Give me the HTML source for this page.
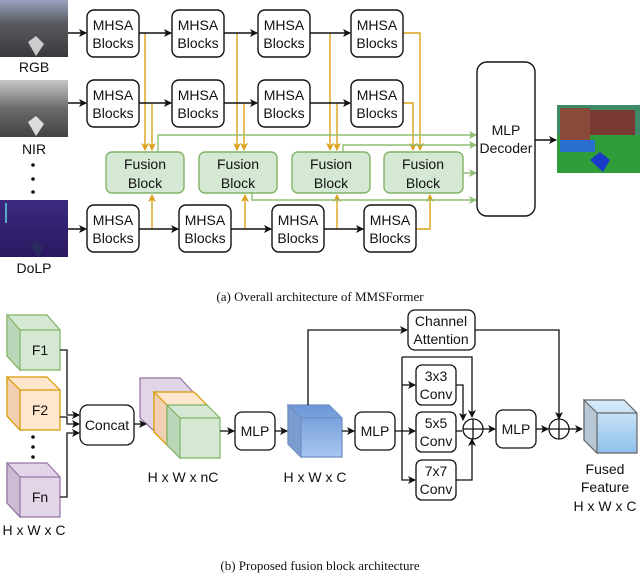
<!DOCTYPE html>
<html><head><meta charset="utf-8"><style>
html,body{margin:0;padding:0;background:#fff;}
svg{display:block;}
text{font-family:"Liberation Sans",sans-serif;fill:#111;}
.s{font-family:"Liberation Serif",serif;}
</style></head><body>
<svg width="640" height="575" viewBox="0 0 640 575" xmlns="http://www.w3.org/2000/svg">
<defs>
<marker id="ak" markerWidth="8" markerHeight="8" refX="7" refY="4" orient="auto" markerUnits="userSpaceOnUse"><path d="M0,0 L8,4 L0,8 L2,4 z" fill="#111"/></marker>
<marker id="ao" markerWidth="8" markerHeight="8" refX="7" refY="4" orient="auto" markerUnits="userSpaceOnUse"><path d="M0,0 L8,4 L0,8 L2,4 z" fill="#dba21c"/></marker>
<marker id="ag" markerWidth="8" markerHeight="8" refX="7" refY="4" orient="auto" markerUnits="userSpaceOnUse"><path d="M0,0 L8,4 L0,8 L2,4 z" fill="#8fbf72"/></marker>
<linearGradient id="rgb" x1="0" y1="0" x2="0" y2="1"><stop offset="0" stop-color="#9aa3c0"/><stop offset="0.4" stop-color="#5a5a60"/><stop offset="1" stop-color="#3a3a3e"/></linearGradient>
<linearGradient id="nir" x1="0" y1="0" x2="0" y2="1"><stop offset="0" stop-color="#c8c8c8"/><stop offset="0.5" stop-color="#6a6a6a"/><stop offset="1" stop-color="#444"/></linearGradient>
<linearGradient id="dolp" x1="0" y1="0" x2="0" y2="1"><stop offset="0" stop-color="#3b2a80"/><stop offset="1" stop-color="#2a1860"/></linearGradient>
<linearGradient id="blue" x1="0" y1="0" x2="0" y2="1"><stop offset="0" stop-color="#6b96d8"/><stop offset="1" stop-color="#a8c6f0"/></linearGradient>
<linearGradient id="lblue" x1="0" y1="0" x2="0" y2="1"><stop offset="0" stop-color="#d8ecfa"/><stop offset="1" stop-color="#8fc0ea"/></linearGradient>
</defs>

<rect x="0" y="0" width="68" height="57" fill="url(#rgb)"/>
<path d="M28,42 L36,36 L44,44 L36,56 z" fill="#ccc"/>
<rect x="0" y="80" width="68" height="57" fill="url(#nir)"/>
<path d="M28,122 L36,116 L44,124 L36,136 z" fill="#ddd"/>
<rect x="0" y="200" width="68" height="57" fill="url(#dolp)"/>
<rect x="5" y="203" width="2" height="20" fill="#5ac"/>
<path d="M30,246 L36,240 L44,248 L38,257 z" fill="#2a2a60"/>
<text x="34" y="72" font-size="14" text-anchor="middle">RGB</text>
<text x="34" y="154" font-size="14" text-anchor="middle">NIR</text>
<circle cx="33" cy="165" r="1.8" fill="#111"/><circle cx="33" cy="179" r="1.8" fill="#111"/><circle cx="33" cy="192" r="1.8" fill="#111"/>
<text x="34" y="273" font-size="14" text-anchor="middle">DoLP</text>
<rect x="557" y="105" width="83" height="68" fill="#2f9e3a"/>
<rect x="557" y="105" width="83" height="30" fill="#3d8a68"/>
<rect x="560" y="108" width="30" height="40" fill="#8a4a3a"/>
<rect x="590" y="110" width="45" height="25" fill="#7a3a34"/>
<rect x="560" y="140" width="35" height="12" fill="#2a70d0"/>
<path d="M590,160 L600,152 L610,160 L603,172 z" fill="#1a3ac8"/>

<g fill="none" stroke-width="1.4">
<g stroke="#dba21c">
<path d="M145,33 V150" marker-end="url(#ao)"/><path d="M152,103 V150" marker-end="url(#ao)"/>
<path d="M237,33 V150" marker-end="url(#ao)"/><path d="M244,103 V150" marker-end="url(#ao)"/>
<path d="M330,33 V150" marker-end="url(#ao)"/><path d="M337,103 V150" marker-end="url(#ao)"/>
<path d="M403,33 H420 V150" marker-end="url(#ao)"/><path d="M403,103 H413 V150" marker-end="url(#ao)"/>
<path d="M152,229 V195" marker-end="url(#ao)"/>
<path d="M245,229 V195" marker-end="url(#ao)"/>
<path d="M337,229 V195" marker-end="url(#ao)"/>
<path d="M416,229 H430 V195" marker-end="url(#ao)"/>
</g>
<g stroke="#8fbf72">
<path d="M158,152 V135 H476" marker-end="url(#ag)"/>
<path d="M343,152 V145 H476" marker-end="url(#ag)"/>
<path d="M463,173 H476" marker-end="url(#ag)"/>
<path d="M252,193 V200 H476" marker-end="url(#ag)"/>
</g>
<g stroke="#111">
<path d="M68,33 H86" marker-end="url(#ak)"/><path d="M139,33 H171" marker-end="url(#ak)"/><path d="M224,33 H257" marker-end="url(#ak)"/><path d="M310,33 H350" marker-end="url(#ak)"/>
<path d="M68,103 H86" marker-end="url(#ak)"/><path d="M139,103 H171" marker-end="url(#ak)"/><path d="M224,103 H257" marker-end="url(#ak)"/><path d="M310,103 H350" marker-end="url(#ak)"/>
<path d="M68,229 H86" marker-end="url(#ak)"/><path d="M139,229 H178" marker-end="url(#ak)"/><path d="M231,229 H271" marker-end="url(#ak)"/><path d="M324,229 H363" marker-end="url(#ak)"/>
<path d="M535,140 H556" marker-end="url(#ak)"/>
</g>
</g>

<g fill="#fff" stroke="#111" stroke-width="1.4">
<rect x="87" y="10" width="52" height="47" rx="7"/><rect x="172" y="10" width="52" height="47" rx="7"/><rect x="258" y="10" width="52" height="47" rx="7"/><rect x="351" y="10" width="52" height="47" rx="7"/>
<rect x="87" y="80" width="52" height="47" rx="7"/><rect x="172" y="80" width="52" height="47" rx="7"/><rect x="258" y="80" width="52" height="47" rx="7"/><rect x="351" y="80" width="52" height="47" rx="7"/>
<rect x="87" y="205" width="52" height="47" rx="7"/><rect x="179" y="205" width="52" height="47" rx="7"/><rect x="272" y="205" width="52" height="47" rx="7"/><rect x="364" y="205" width="52" height="47" rx="7"/>
<rect x="477" y="62" width="58" height="154" rx="10"/>
</g>
<g font-size="14" text-anchor="middle">
<text x="113" y="30">MHSA</text><text x="113" y="48">Blocks</text>
<text x="198" y="30">MHSA</text><text x="198" y="48">Blocks</text>
<text x="284" y="30">MHSA</text><text x="284" y="48">Blocks</text>
<text x="377" y="30">MHSA</text><text x="377" y="48">Blocks</text>
<text x="113" y="100">MHSA</text><text x="113" y="118">Blocks</text>
<text x="198" y="100">MHSA</text><text x="198" y="118">Blocks</text>
<text x="284" y="100">MHSA</text><text x="284" y="118">Blocks</text>
<text x="377" y="100">MHSA</text><text x="377" y="118">Blocks</text>
<text x="113" y="225">MHSA</text><text x="113" y="243">Blocks</text>
<text x="205" y="225">MHSA</text><text x="205" y="243">Blocks</text>
<text x="298" y="225">MHSA</text><text x="298" y="243">Blocks</text>
<text x="390" y="225">MHSA</text><text x="390" y="243">Blocks</text>
<text x="506" y="135">MLP</text><text x="506" y="153">Decoder</text>
</g>
<g fill="#d5e8d4" stroke="#82b366" stroke-width="1.4">
<rect x="106" y="152" width="78" height="41" rx="6"/><rect x="199" y="152" width="78" height="41" rx="6"/><rect x="292" y="152" width="78" height="41" rx="6"/><rect x="384" y="152" width="79" height="41" rx="6"/>
</g>
<g font-size="14" text-anchor="middle">
<text x="145" y="169">Fusion</text><text x="145" y="188">Block</text>
<text x="238" y="169">Fusion</text><text x="238" y="188">Block</text>
<text x="331" y="169">Fusion</text><text x="331" y="188">Block</text>
<text x="423" y="169">Fusion</text><text x="423" y="188">Block</text>
</g>
<text class="s" x="320" y="301" font-size="13" text-anchor="middle">(a) Overall architecture of MMSFormer</text>

<g stroke-width="1.2">
<path d="M7,315 H47 L60,330 V370 H20 L7,356 z" fill="#d5e8d4" stroke="#82b366"/>
<path d="M7,315 L20,330 V370 L7,356 z" fill="#bcd6b9" stroke="#82b366"/>
<path d="M20,330 H60" stroke="#82b366"/>
<path d="M7,377 H47 L60,390 V430 H20 L7,416 z" fill="#ffe6cc" stroke="#d79b00"/>
<path d="M7,377 L20,390 V430 L7,416 z" fill="#f0d0b0" stroke="#d79b00"/>
<path d="M20,390 H60" stroke="#d79b00"/>
<path d="M7,463 H47 L60,477 V517 H20 L7,503 z" fill="#e1d5e7" stroke="#9673a6"/>
<path d="M7,463 L20,477 V517 L7,503 z" fill="#cbbcd4" stroke="#9673a6"/>
<path d="M20,477 H60" stroke="#9673a6"/>
</g>
<circle cx="33" cy="437" r="1.8" fill="#111"/><circle cx="33" cy="447" r="1.8" fill="#111"/><circle cx="33" cy="457" r="1.8" fill="#111"/>
<g font-size="14" text-anchor="middle">
<text x="40" y="355">F1</text><text x="40" y="415">F2</text><text x="40" y="502">Fn</text>
<text x="34" y="535">H x W x C</text>
</g>
<g stroke-width="1.2">
<path d="M140,378 H180 L193,392 V430 H153 L140,418 z" fill="#e1d5e7" stroke="#9673a6"/>
<path d="M154,392 H194 L207,405 V445 H167 L154,432 z" fill="#ffe6cc" stroke="#d79b00"/>
<path d="M154,392 L167,405 V445 L154,432 z" fill="#f0d0b0" stroke="#d79b00"/>
<path d="M167,405 H207 L220,418 V458 H180 L167,445 z" fill="#d5e8d4" stroke="#82b366"/>
<path d="M167,405 L180,418 V458 L167,445 z" fill="#bcd6b9" stroke="#82b366"/>
<path d="M180,418 H220" stroke="#82b366"/>
</g>
<text x="183" y="482" font-size="14" text-anchor="middle">H x W x nC</text>
<path d="M288,405 H329 L342,418 V457 H301 L288,444 z" fill="url(#blue)" stroke="#6c8ebf" stroke-width="1.2"/>
<path d="M288,405 L301,418 V457 L288,444 z" fill="#7a9cd0" stroke="#6c8ebf" stroke-width="1.2"/>
<path d="M301,418 H342" stroke="#6c8ebf" stroke-width="1.2"/>
<text x="315" y="482" font-size="14" text-anchor="middle">H x W x C</text>
<path d="M584,400 H624 L637,413 V453 H597 L584,440 z" fill="url(#lblue)" stroke="#666" stroke-width="1.2"/>
<path d="M584,400 L597,413 V453 L584,440 z" fill="#b8c8d4" stroke="#666" stroke-width="1.2"/>
<path d="M597,413 H637" stroke="#666" stroke-width="1.2"/>
<g font-size="14" text-anchor="middle">
<text x="605" y="474">Fused</text><text x="605" y="492">Feature</text><text x="605" y="511">H x W x C</text>
</g>

<g fill="none" stroke="#111" stroke-width="1.3">
<path d="M60,350 H67 V415 H79" marker-end="url(#ak)"/>
<path d="M60,417 H67 V424 H79" marker-end="url(#ak)"/>
<path d="M60,497 H67 V433 H79" marker-end="url(#ak)"/>
<path d="M134,424 H146" marker-end="url(#ak)"/>
<path d="M220,431 H234" marker-end="url(#ak)"/>
<path d="M275,431 H287" marker-end="url(#ak)"/>
<path d="M308,405 V330 H407" marker-end="url(#ak)"/>
<path d="M342,431 H354" marker-end="url(#ak)"/>
<path d="M395,431 H415" marker-end="url(#ak)"/>
<path d="M402,357 V480 H415" marker-end="url(#ak)"/>
<path d="M402,385 H415" marker-end="url(#ak)"/>
<path d="M402,357 H472 V417" marker-end="url(#ak)"/>
<path d="M456,385 H463 V420" marker-end="url(#ak)"/>
<path d="M456,431 H462" />
<path d="M456,480 H472 V439" marker-end="url(#ak)"/>
<path d="M483,429 H495" marker-end="url(#ak)"/>
<path d="M536,429 H548" marker-end="url(#ak)"/>
<path d="M475,330 H559 V419" marker-end="url(#ak)"/>
<path d="M569,429 H582" marker-end="url(#ak)"/>
<circle cx="473" cy="429" r="10"/><path d="M463,429 H483 M473,419 V439"/>
<circle cx="559" cy="429" r="10"/><path d="M549,429 H569 M559,419 V439"/>
</g>
<g fill="#fff" stroke="#111" stroke-width="1.3">
<rect x="80" y="405" width="54" height="40" rx="8"/>
<rect x="235" y="412" width="40" height="38" rx="7"/>
<rect x="355" y="412" width="40" height="38" rx="7"/>
<rect x="496" y="410" width="40" height="38" rx="7"/>
<rect x="408" y="310" width="67" height="40" rx="7"/>
<rect x="416" y="365" width="40" height="40" rx="6"/>
<rect x="416" y="412" width="40" height="40" rx="6"/>
<rect x="416" y="460" width="40" height="40" rx="6"/>
</g>
<g font-size="14" text-anchor="middle">
<text x="107" y="430">Concat</text>
<text x="255" y="436">MLP</text>
<text x="375" y="436">MLP</text>
<text x="516" y="434">MLP</text>
<text x="441" y="326">Channel</text><text x="441" y="344">Attention</text>
<text x="436" y="381">3x3</text><text x="436" y="399">Conv</text>
<text x="436" y="428">5x5</text><text x="436" y="446">Conv</text>
<text x="436" y="476">7x7</text><text x="436" y="494">Conv</text>
</g>
<text class="s" x="320" y="570" font-size="13" text-anchor="middle">(b) Proposed fusion block architecture</text>
</svg>
</body></html>
